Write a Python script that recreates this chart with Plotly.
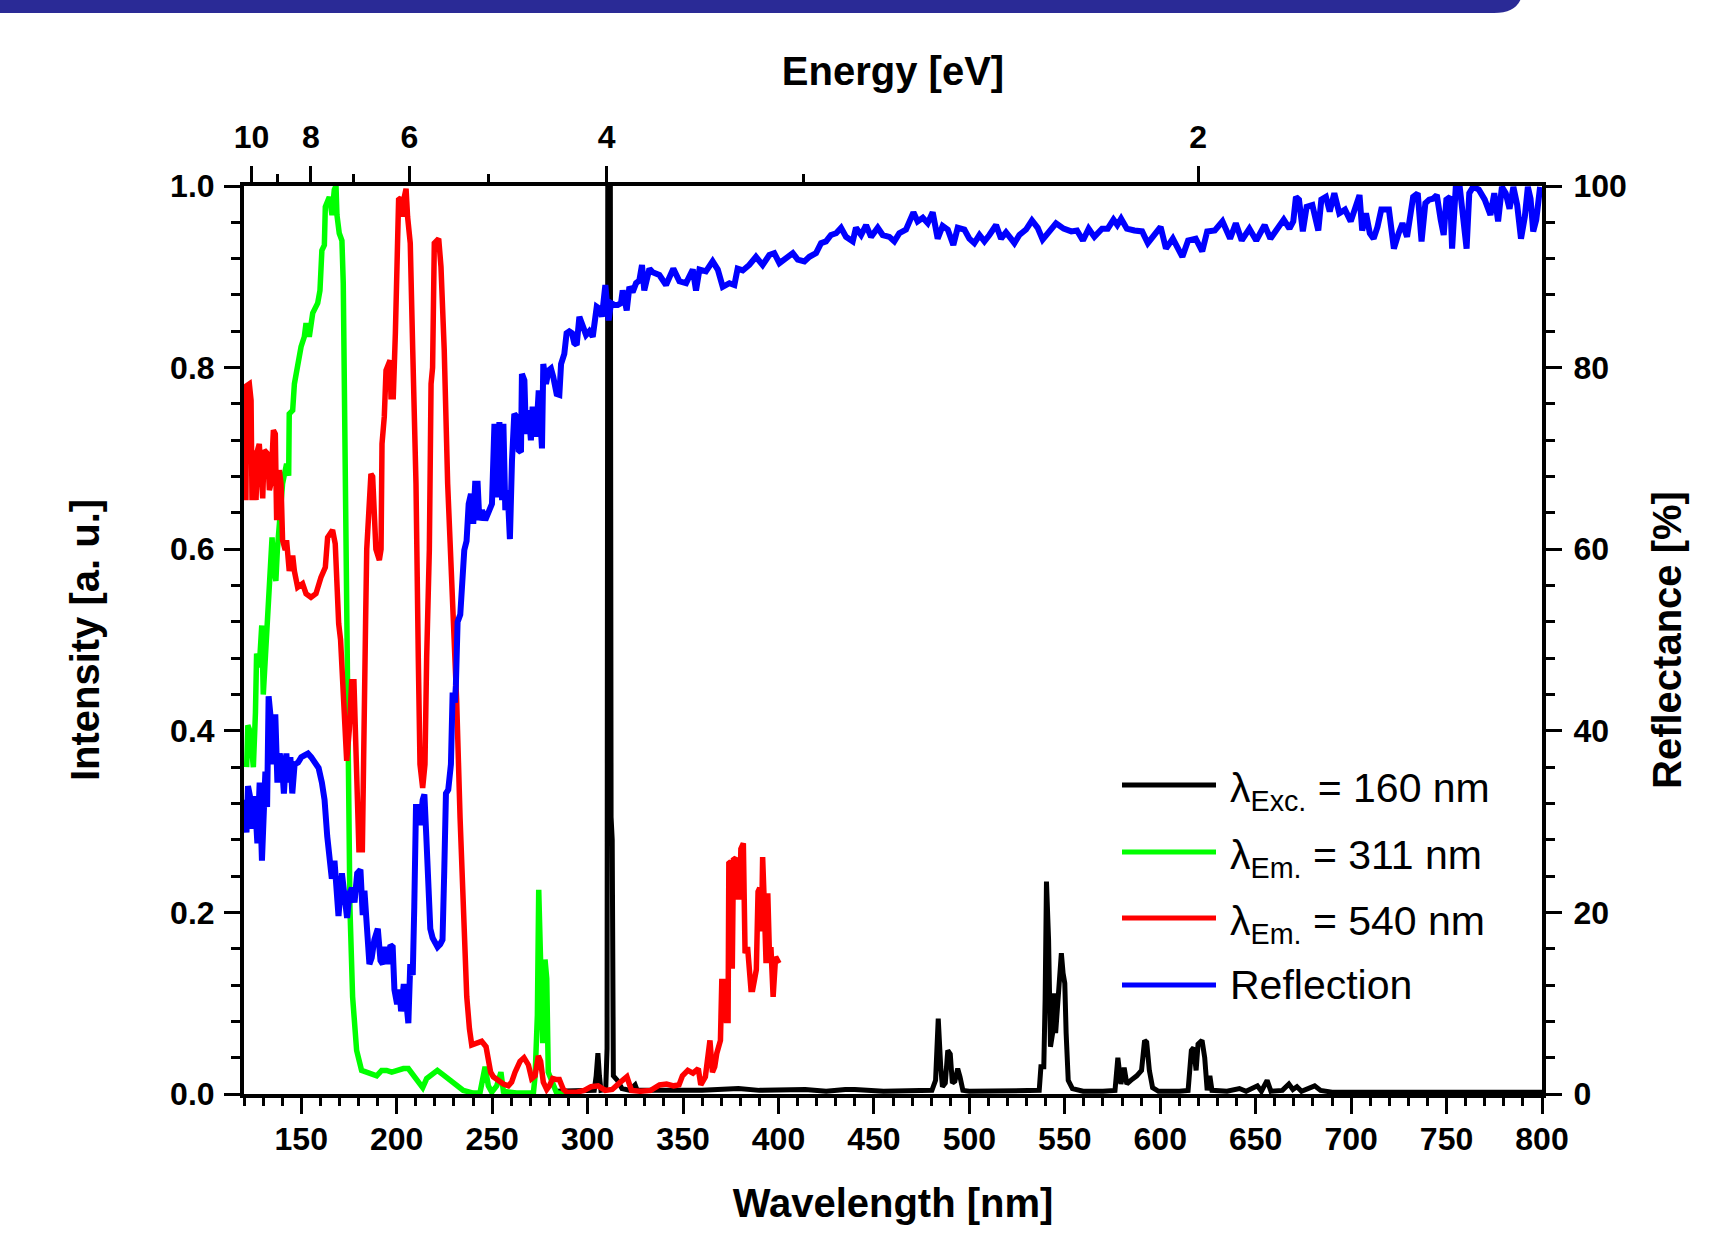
import plotly.graph_objects as go

# ---------------- data ----------------
black_nm = [283.0, 290.0, 298.0, 303.5, 304.5, 305.4, 306.2, 307.0, 309.5, 310.2, 310.8, 311.6,
            312.3, 312.9, 313.5, 315.6, 318.0, 322.0, 324.9, 326.0, 340.0, 360.0, 379.0, 390.0,
            414.0, 425.0, 435.0, 440.0, 455.0, 470.0, 480.4, 482.3, 483.7, 485.0, 485.9, 487.4,
            488.7, 490.0, 491.1, 492.4, 493.9, 495.1, 496.6, 500.0, 520.0, 536.6, 537.5, 539.0,
            539.7, 540.4, 541.5, 542.5, 543.6, 544.3, 545.2, 546.3, 547.2, 548.2, 549.1, 550.0,
            550.7, 551.8, 554.0, 559.6, 570.0, 576.3, 577.8, 579.4, 581.1, 582.5, 584.6, 587.7,
            590.2, 591.8, 592.9, 594.3, 596.0, 599.1, 610.0, 614.6, 616.3, 617.5, 618.8, 619.8,
            621.9, 623.3, 624.6, 626.0, 627.1, 635.0, 641.5, 645.0, 650.9, 653.0, 656.0, 658.0,
            664.0, 667.4, 669.5, 671.6, 674.0, 680.9, 684.0, 690.0, 720.0, 760.0, 800.0]
black_int = [0.003, 0.003, 0.003, 0.004, 0.020, 0.045, 0.020, 0.004, 0.005, 0.050, 1.600, 1.600,
             0.305, 0.280, 0.020, 0.015, 0.006, 0.004, 0.010, 0.004, 0.004, 0.004, 0.006, 0.004,
             0.005, 0.003, 0.005, 0.005, 0.003, 0.003, 0.004, 0.015, 0.083, 0.030, 0.008, 0.012,
             0.048, 0.044, 0.012, 0.014, 0.028, 0.019, 0.004, 0.003, 0.003, 0.004, 0.030, 0.030,
             0.104, 0.234, 0.170, 0.052, 0.067, 0.111, 0.067, 0.096, 0.118, 0.155, 0.133, 0.122,
             0.067, 0.015, 0.006, 0.003, 0.003, 0.004, 0.040, 0.011, 0.029, 0.011, 0.015, 0.020,
             0.026, 0.059, 0.057, 0.026, 0.007, 0.003, 0.003, 0.004, 0.048, 0.051, 0.026, 0.055,
             0.059, 0.040, 0.004, 0.020, 0.004, 0.003, 0.006, 0.003, 0.009, 0.003, 0.015, 0.003,
             0.004, 0.011, 0.005, 0.008, 0.003, 0.009, 0.004, 0.002, 0.002, 0.002, 0.002]

green_nm = [121.4, 122.0, 123.1, 124.0, 124.9, 126.0, 126.6, 128.0, 129.3, 130.1, 131.9, 132.4,
            134.7, 135.5, 136.7, 137.5, 139.0, 140.2, 142.3, 143.4, 143.7, 145.5, 146.4, 148.1,
            149.9, 151.6, 152.5, 154.2, 156.0, 158.6, 159.8, 160.8, 162.1, 162.6, 164.7, 166.1,
            167.3, 168.2, 168.7, 169.9, 171.3, 172.0, 172.8, 173.4, 174.7, 175.5, 176.9, 179.0,
            181.6, 184.3, 186.9, 189.5, 192.1, 194.7, 197.4, 200.0, 203.5, 206.1, 208.7, 211.3,
            213.6, 215.7, 218.3, 221.3, 224.4, 227.9, 231.4, 234.9, 240.1, 243.6, 246.3, 248.0,
            249.8, 252.4, 254.6, 255.9, 262.8, 271.6, 272.5, 273.7, 274.4, 275.4, 276.5, 277.7,
            278.6, 279.4, 280.3, 281.7, 283.8, 289.0]
green_int = [0.360, 0.406, 0.400, 0.370, 0.360, 0.420, 0.485, 0.470, 0.516, 0.440, 0.510, 0.543,
             0.613, 0.580, 0.565, 0.600, 0.640, 0.672, 0.694, 0.681, 0.749, 0.753, 0.782, 0.804,
             0.823, 0.834, 0.849, 0.834, 0.860, 0.871, 0.885, 0.929, 0.935, 0.977, 0.988, 0.968,
             0.996, 1.000, 0.968, 0.948, 0.940, 0.893, 0.700, 0.540, 0.245, 0.205, 0.107, 0.048,
             0.026, 0.024, 0.022, 0.020, 0.026, 0.026, 0.024, 0.026, 0.028, 0.028, 0.020, 0.012,
             0.007, 0.017, 0.022, 0.026, 0.021, 0.015, 0.009, 0.004, 0.001, 0.001, 0.030, 0.009,
             0.002, 0.009, 0.024, 0.003, 0.001, 0.001, 0.020, 0.087, 0.225, 0.127, 0.056, 0.148,
             0.127, 0.024, 0.020, 0.013, 0.001, 0.000]

red_nm = [121.0, 121.4, 122.8, 123.7, 124.2, 125.4, 126.3, 127.1, 128.0, 128.9, 129.8, 130.6,
          132.4, 133.3, 134.1, 135.4, 136.4, 137.1, 138.5, 139.4, 140.2, 141.6, 142.3, 143.7,
          145.5, 146.4, 148.1, 150.7, 152.5, 155.1, 157.7, 160.3, 162.6, 163.8, 166.4, 167.8,
          168.5, 169.6, 170.6, 172.4, 173.8, 175.2, 176.4, 177.6, 179.0, 180.2, 182.0, 182.9,
          183.7, 184.3, 186.5, 187.4, 189.1, 190.9, 191.8, 192.3, 193.5, 194.4, 195.3, 196.5,
          197.0, 198.2, 199.3, 200.5, 201.0, 202.2, 203.1, 204.0, 204.9, 205.7, 207.1, 208.4,
          210.1, 211.3, 212.2, 213.6, 214.8, 215.7, 217.1, 218.0, 218.8, 219.7, 220.9, 222.0,
          223.2, 224.9, 226.7, 229.7, 231.4, 233.2, 234.9, 236.7, 238.1, 239.3, 241.9, 244.5,
          246.8, 248.0, 249.2, 250.6, 253.2, 255.9, 258.5, 260.2, 262.0, 264.6, 266.7, 269.0,
          270.7, 272.5, 274.2, 275.4, 276.8, 278.6, 280.0, 281.7, 283.5, 285.2, 287.3, 289.0,
          294.3, 298.2, 301.8, 305.5, 309.2, 312.9, 316.6, 320.6, 323.0, 327.6, 333.1, 337.7,
          341.4, 345.1, 347.9, 349.7, 352.5, 355.2, 358.0, 359.3, 361.7, 364.1, 365.4, 366.6,
          367.7, 369.6, 370.3, 371.8, 372.7, 373.6, 374.0, 375.1, 375.8, 376.4, 377.7, 378.8,
          379.7, 380.3, 381.6, 382.5, 383.8, 385.6, 386.5, 388.4, 389.3, 390.2, 391.1, 391.7,
          392.4, 393.5, 394.4, 395.2, 396.1, 397.2, 398.5, 399.4, 400.3]
red_int = [0.654, 0.780, 0.782, 0.764, 0.654, 0.709, 0.654, 0.709, 0.716, 0.680, 0.656, 0.709,
           0.705, 0.665, 0.672, 0.731, 0.727, 0.632, 0.687, 0.672, 0.610, 0.599, 0.610, 0.576,
           0.593, 0.576, 0.558, 0.562, 0.551, 0.547, 0.551, 0.569, 0.580, 0.613, 0.621, 0.606,
           0.562, 0.518, 0.500, 0.422, 0.367, 0.402, 0.454, 0.454, 0.343, 0.269, 0.269, 0.363,
           0.520, 0.600, 0.683, 0.680, 0.600, 0.588, 0.600, 0.716, 0.746, 0.797, 0.804, 0.808,
           0.768, 0.768, 0.838, 0.911, 0.985, 0.987, 0.966, 0.988, 0.997, 0.966, 0.937, 0.819,
           0.672, 0.481, 0.363, 0.337, 0.363, 0.481, 0.600, 0.782, 0.800, 0.937, 0.939, 0.942,
           0.911, 0.819, 0.672, 0.540, 0.434, 0.304, 0.206, 0.107, 0.072, 0.054, 0.056, 0.058,
           0.052, 0.040, 0.024, 0.019, 0.015, 0.011, 0.009, 0.013, 0.024, 0.036, 0.040, 0.032,
           0.017, 0.020, 0.042, 0.036, 0.013, 0.005, 0.009, 0.017, 0.016, 0.016, 0.005, 0.002,
           0.002, 0.004, 0.008, 0.009, 0.004, 0.005, 0.012, 0.019, 0.004, 0.003, 0.004, 0.010,
           0.011, 0.009, 0.010, 0.020, 0.026, 0.023, 0.028, 0.010, 0.019, 0.059, 0.024, 0.030,
           0.045, 0.059, 0.124, 0.124, 0.081, 0.081, 0.254, 0.256, 0.138, 0.258, 0.260, 0.217,
           0.217, 0.270, 0.276, 0.155, 0.162, 0.115, 0.115, 0.137, 0.223, 0.227, 0.179, 0.261,
           0.220, 0.144, 0.221, 0.159, 0.159, 0.107, 0.151, 0.148, 0.144]

refl_nm = [120.4, 121.3, 122.1, 123.5, 124.4, 125.6, 127.0, 128.2, 129.4, 130.3, 131.2, 132.1,
           132.9, 134.0, 135.2, 136.4, 137.5, 138.7, 139.9, 140.9, 142.2, 143.0, 144.3, 145.3,
           146.5, 148.3, 150.0, 151.7, 153.5, 155.2, 157.0, 159.1, 160.8, 162.2, 163.6, 164.8,
           166.0, 167.4, 168.3, 169.5, 171.3, 172.6, 174.0, 175.3, 176.5, 177.9, 179.3, 181.0,
           182.2, 183.1, 184.5, 185.7, 186.9, 188.3, 190.1, 191.5, 192.7, 193.9, 195.3, 196.7,
           197.9, 198.8, 200.2, 201.4, 202.3, 203.7, 204.9, 206.1, 207.1, 208.4, 209.2, 210.1,
           211.3, 212.4, 213.6, 214.5, 215.5, 216.6, 217.6, 218.8, 220.0, 221.4, 222.8, 224.0,
           224.9, 225.8, 227.0, 228.4, 229.3, 230.5, 231.0, 231.9, 233.3, 235.4, 236.6, 237.7,
           238.9, 240.1, 241.1, 242.4, 243.3, 244.7, 246.4, 248.2, 249.9, 251.2, 252.4, 253.8,
           255.2, 255.9, 256.9, 258.1, 259.3, 260.4, 261.6, 262.8, 263.9, 265.1, 265.6, 266.9,
           267.7, 269.1, 270.3, 271.2, 273.0, 274.4, 275.6, 276.1, 276.8, 278.2, 279.6, 280.8,
           282.0, 283.8, 285.2, 286.1, 287.8, 289.0, 290.4, 291.8, 293.0, 294.3, 295.7, 297.4,
           299.2, 300.9, 302.7, 304.8, 306.2, 307.5, 309.3, 311.0, 312.3, 314.0, 315.8, 317.5,
           318.4, 320.5, 321.9, 323.6, 325.4, 327.1, 328.5, 329.7, 331.5, 332.4, 334.1, 337.6,
           341.1, 344.9, 348.1, 351.6, 355.1, 356.8, 358.6, 362.0, 365.5, 368.2, 370.8, 374.3,
           376.9, 378.6, 381.3, 384.7, 388.2, 391.7, 395.2, 397.8, 400.5, 404.0, 407.5, 410.1,
           413.6, 416.2, 419.7, 422.3, 424.9, 427.5, 430.2, 432.8, 435.4, 438.9, 440.6, 443.3,
           445.9, 448.5, 452.0, 454.6, 458.1, 460.7, 463.3, 466.8, 468.6, 470.7, 472.9, 475.6,
           478.2, 480.8, 483.4, 486.0, 488.7, 491.6, 493.9, 497.4, 500.0, 502.6, 505.3, 507.9,
           510.5, 514.0, 516.6, 519.2, 521.8, 523.6, 526.2, 529.7, 532.8, 535.8, 538.4, 541.0,
           542.4, 545.4, 549.4, 553.4, 556.4, 559.5, 562.5, 565.5, 569.5, 572.5, 575.5, 577.5,
           579.5, 582.5, 586.5, 590.5, 593.5, 596.5, 600.2, 603.0, 606.6, 611.6, 614.6, 618.6,
           622.0, 624.6, 628.6, 632.6, 636.6, 639.6, 642.7, 646.7, 650.3, 654.7, 657.7, 660.7,
           664.7, 667.7, 669.7, 671.1, 672.7, 674.7, 676.7, 679.7, 682.8, 684.4, 686.8, 688.8,
           691.2, 693.8, 696.8, 699.8, 701.8, 704.4, 705.8, 707.8, 709.8, 711.8, 713.8, 715.8,
           719.8, 722.4, 724.9, 726.9, 729.3, 732.5, 734.9, 736.9, 738.9, 740.9, 742.9, 744.9,
           746.9, 748.5, 749.9, 751.9, 752.9, 754.9, 756.9, 758.9, 760.5, 761.9, 763.9, 766.9,
           770.0, 773.0, 775.0, 777.0, 779.0, 781.0, 783.0, 785.0, 787.0, 789.0, 791.0, 792.6,
           794.0, 795.4, 797.0, 799.0]
refl_pct = [32.4, 28.8, 33.9, 32.4, 29.2, 32.8, 27.6, 34.3, 25.7, 34.3, 35.5, 31.6,
            43.8, 41.4, 36.3, 41.8, 34.3, 37.5, 36.3, 33.1, 37.5, 34.3, 37.1, 33.1,
            36.3, 36.5, 37.1, 37.3, 37.5, 37.1, 36.5, 35.9, 34.3, 32.4, 28.4, 25.7,
            23.7, 25.7, 22.1, 19.6, 24.3, 22.1, 19.4, 22.1, 22.7, 21.1, 24.3, 24.7,
            19.7, 22.4, 19.0, 14.3, 15.0, 17.0, 18.2, 14.7, 14.3, 16.2, 14.3, 16.4,
            16.2, 11.5, 9.9, 11.5, 9.1, 12.1, 10.4, 7.8, 14.3, 13.1, 20.6, 31.6,
            31.6, 29.6, 32.4, 33.0, 28.4, 23.7, 18.2, 17.2, 16.8, 16.2, 16.5, 17.0,
            24.5, 33.1, 33.5, 36.3, 44.2, 43.1, 45.0, 52.0, 52.8, 59.9, 60.9, 65.0,
            66.1, 62.8, 67.2, 67.2, 63.2, 64.3, 63.2, 64.0, 65.0, 73.8, 65.7, 74.0,
            65.4, 73.8, 64.3, 66.5, 61.1, 69.8, 74.9, 74.6, 70.9, 70.7, 79.3, 78.6,
            72.7, 75.3, 72.0, 75.7, 72.4, 77.5, 72.4, 71.1, 80.4, 78.2, 79.7, 79.9,
            79.0, 77.1, 77.0, 80.4, 81.5, 83.8, 84.0, 83.8, 82.7, 82.5, 85.6, 84.5,
            83.6, 84.0, 83.4, 86.7, 86.5, 85.6, 89.1, 85.2, 87.1, 86.9, 86.9, 87.1,
            88.5, 86.3, 88.9, 88.3, 89.3, 89.6, 91.3, 88.5, 90.0, 90.9, 90.5, 90.2,
            89.1, 90.9, 89.5, 89.3, 90.8, 88.5, 90.8, 90.6, 91.7, 90.8, 88.9, 89.3,
            89.1, 90.9, 90.7, 91.3, 92.2, 91.3, 92.4, 92.6, 91.5, 92.0, 92.6, 91.9,
            91.7, 92.2, 92.6, 93.7, 93.9, 94.6, 94.8, 95.4, 94.4, 93.9, 95.4, 94.6,
            95.7, 94.4, 95.4, 94.6, 94.4, 93.9, 94.8, 95.2, 96.1, 97.1, 96.1, 96.5,
            95.9, 97.1, 94.2, 95.6, 95.2, 93.5, 95.4, 95.2, 94.2, 93.7, 94.6, 93.9,
            94.6, 95.7, 94.2, 94.9, 94.2, 93.7, 94.6, 95.2, 96.2, 95.4, 94.1, 94.8,
            95.0, 95.9, 95.3, 95.0, 95.1, 94.0, 95.3, 94.4, 95.3, 95.3, 96.3, 95.7,
            96.4, 95.3, 95.1, 95.0, 93.7, 94.6, 95.5, 93.1, 94.2, 92.2, 94.0, 94.2,
            92.8, 95.0, 95.1, 96.1, 94.2, 95.9, 94.0, 95.3, 94.0, 95.7, 94.2, 95.1,
            96.3, 95.3, 96.1, 98.8, 98.5, 95.0, 97.7, 97.9, 95.1, 98.5, 98.8, 97.2,
            99.2, 97.0, 97.4, 96.1, 97.4, 99.0, 95.1, 97.0, 94.8, 94.2, 95.5, 97.4,
            97.4, 93.1, 94.8, 95.9, 94.4, 98.8, 99.2, 93.9, 98.1, 98.5, 98.6, 99.0,
            96.3, 94.6, 98.5, 98.8, 93.1, 100.1, 99.9, 96.6, 93.1, 99.2, 99.9, 99.6,
            98.5, 96.8, 99.2, 96.1, 99.9, 99.2, 97.5, 99.9, 97.9, 94.2, 96.6, 99.9,
            98.6, 95.0, 96.3, 99.9]

energy_major = [10, 8, 6, 4, 2]
energy_minor = [9, 7, 5, 3]
HC = 1239.84  # eV*nm

legend_labels = ["λ<sub>Exc.</sub> = 160 nm", "λ<sub>Em.</sub> = 311 nm",
                 "λ<sub>Em.</sub> = 540 nm", "Reflection"]
legend_colors = ["#000000", "#00FF00", "#FF0000", "#0000FF"]

# ---------------- layout geometry ----------------
W, H = 1722, 1234
L, R, T, B = 244, 180, 186, 140
PW, PH = W - L - R, H - T - B


def px(X):
    return (X - L) / PW


def py(Y):
    return (H - B - Y) / PH


FONT = "Liberation Sans, Arial, Helvetica, sans-serif"
tick_font = dict(family=FONT, size=32, color="black", weight="bold")
title_font = dict(family=FONT, size=40, color="black", weight="bold")

fig = go.Figure()
fig.add_trace(go.Scatter(x=black_nm, y=black_int, mode="lines", name="λExc. = 160 nm",
                         line=dict(color=legend_colors[0], width=5)))
fig.add_trace(go.Scatter(x=green_nm, y=green_int, mode="lines", name="λEm. = 311 nm",
                         line=dict(color=legend_colors[1], width=5.5)))
fig.add_trace(go.Scatter(x=red_nm, y=red_int, mode="lines", name="λEm. = 540 nm",
                         line=dict(color=legend_colors[2], width=5.5)))
fig.add_trace(go.Scatter(x=refl_nm, y=refl_pct, mode="lines", name="Reflection",
                         xaxis="x2", yaxis="y2",
                         line=dict(color=legend_colors[3], width=6)))

axis_common = dict(showgrid=False, zeroline=False, showline=True, linecolor="black",
                   linewidth=4, ticks="outside", tickcolor="black", tickwidth=3,
                   tickfont=tick_font)

fig.update_layout(
    width=W, height=H, margin=dict(l=L, r=R, t=T, b=B),
    paper_bgcolor="white", plot_bgcolor="white", showlegend=False,
    xaxis=dict(range=[120, 800], tickmode="linear", tick0=150, dtick=50, ticklen=16,
               minor=dict(tick0=0, dtick=10, ticks="outside", ticklen=8, tickwidth=3,
                          tickcolor="black", showgrid=False),
               title=dict(text="Wavelength [nm]", font=title_font, standoff=34),
               ticklabelstandoff=-2, **axis_common),
    xaxis2=dict(range=[120, 800], overlaying="x", side="top", anchor="y2",
                tickmode="array", tickvals=[HC / e for e in energy_major],
                ticktext=[str(e) for e in energy_major], ticklen=16,
                minor=dict(tickmode="array", tickvals=[HC / e for e in energy_minor],
                           ticks="outside", ticklen=8, tickwidth=3, tickcolor="black",
                           showgrid=False),
                title=dict(text="Energy [eV]", font=title_font, standoff=22),
                ticklabelstandoff=5, **axis_common),
    yaxis=dict(range=[0, 1], tickmode="linear", tick0=0, dtick=0.2, tickformat=".1f",
               ticklen=16,
               minor=dict(tick0=0, dtick=0.04, ticks="outside", ticklen=9, tickwidth=3,
                          tickcolor="black", showgrid=False),
               title=dict(text="Intensity [a. u.]", font=title_font, standoff=59),
               ticklabelstandoff=3, **axis_common),
    yaxis2=dict(range=[0, 100], overlaying="y", side="right", anchor="x2",
                tickmode="linear", tick0=0, dtick=20, ticklen=16,
                minor=dict(tick0=0, dtick=4, ticks="outside", ticklen=9, tickwidth=3,
                           tickcolor="black", showgrid=False),
                title=dict(text="Reflectance [%]", font=title_font, standoff=28),
                ticklabelstandoff=5, **axis_common),
)

# header banner (decoration at the very top of the page)
fig.add_shape(type="path", xref="paper", yref="paper", layer="above",
              path=(f"M {px(-5)},{py(-5)} L {px(1522)},{py(-5)} "
                    f"Q {px(1518)},{py(13)} {px(1494)},{py(13)} L {px(-5)},{py(13)} Z"),
              fillcolor="#2A2A96", line=dict(width=0))

# legend drawn as line samples + text
legend_rows_Y = [785, 852, 918, 985]
for lab, col, Y in zip(legend_labels, legend_colors, legend_rows_Y):
    fig.add_shape(type="line", xref="paper", yref="paper",
                  x0=px(1122), x1=px(1216), y0=py(Y), y1=py(Y),
                  line=dict(color=col, width=5))
    yoff = 6 if "sub" in lab else 0
    fig.add_annotation(xref="paper", yref="paper", x=px(1228), y=py(Y + yoff),
                       xanchor="left", yanchor="middle", showarrow=False, text=lab,
                       font=dict(family=FONT, size=41, color="black"))

# remove the default page margin so the figure sits at the window origin
fig.write_html("out.html", config={"displayModeBar": False},
               post_script="document.body.style.margin='0px';")
